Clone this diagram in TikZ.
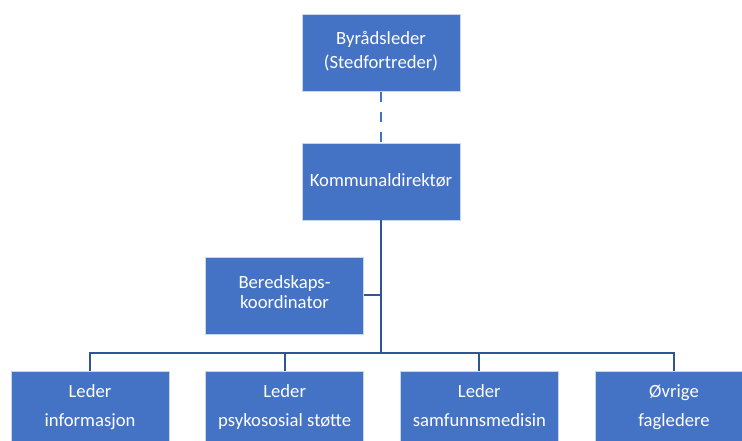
\documentclass[tikz,border=0pt]{standalone}
\usepackage{fontspec}
\setmainfont{Carlito}
\usetikzlibrary{positioning}
\definecolor{boxblue}{HTML}{4472C4}
\definecolor{lineblue}{HTML}{2F5597}

\begin{document}
\begin{tikzpicture}[x=0.75pt, y=-0.75pt,
    box/.style={fill=boxblue, draw=white!70!boxblue, line width=0.5pt, minimum width=118.5pt, minimum height=57.75pt,
      text=white, align=center, font=\fontsize{14}{18}\selectfont, inner sep=2pt,
      execute at begin node=\strut, execute at end node=\strut},
    leadbox/.style={box, font=\fontsize{14}{21.75}\selectfont},
    link/.style={draw=lineblue, line width=1.5pt},
    dashlink/.style={draw=boxblue, line width=1.3pt, dash pattern=on 7.5pt off 7.5pt}]

  \clip (0,0) rectangle (742,441);

  \node[box] (byr) at (381,53) {Byrådsleder\\(Stedfortreder)};
  \node[box, below=38.25pt of byr] (kom) {Kommunaldirektør};
  \node[box, font=\fontsize{14}{15}\selectfont] (bered) at (284.5,295.5) {Beredskaps-\\koordinator};
  \node[leadbox] (info) at (90,409.5) {Leder\\informasjon};
  \node[leadbox, right=27pt of info] (psyk) {Leder\\psykososial støtte};
  \node[leadbox, right=27pt of psyk] (samf) {Leder\\samfunnsmedisin};
  \node[leadbox, right=27pt of samf] (ovr) {Øvrige\\fagledere};
  \coordinate (hub) at (381,353);

  \draw[dashlink] (byr) -- (kom);
  \draw[link] (kom) -- (hub);
  \draw[link] (bered.east) -- (bered.east -| hub);
  \draw[link] (hub) -| (info.north);
  \draw[link] (hub) -| (psyk.north);
  \draw[link] (hub) -| (samf.north);
  \draw[link] (hub) -| (ovr.north);
\end{tikzpicture}
\end{document}
